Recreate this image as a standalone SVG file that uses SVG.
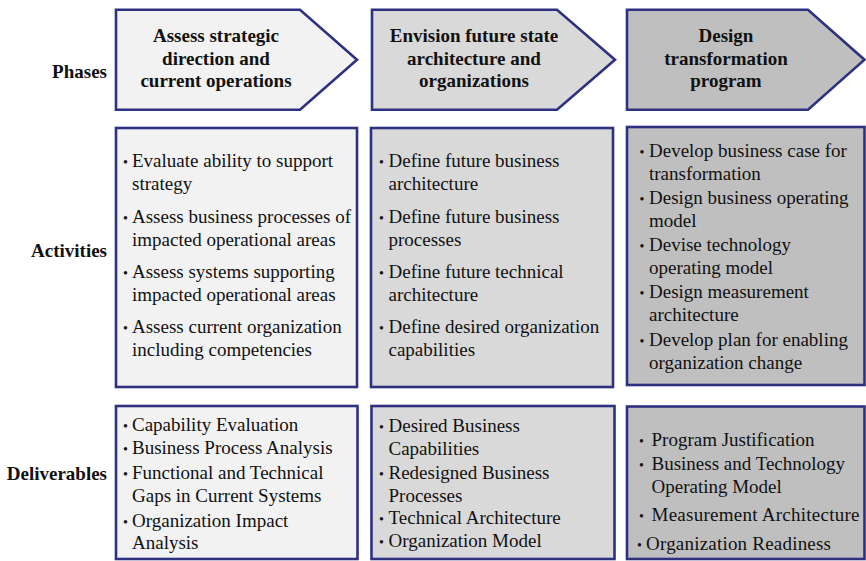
<svg xmlns="http://www.w3.org/2000/svg" width="866" height="561" viewBox="0 0 866 561">
<style>
.sh{stroke:#2e3080;stroke-width:2.6;stroke-linejoin:miter}
.c1{fill:#f2f2f2}.c2{fill:#d9d9d9}.c3{fill:#bfbfbf}
text{font-family:"Liberation Serif","Times New Roman",serif;fill:#111}
.b{font-size:19px;font-weight:bold}
.t{font-size:19px}
.bu{font-size:14px}
.lab{text-anchor:end}
.ph{text-anchor:middle}
</style>
<rect width="866" height="561" fill="#ffffff"/>
<g id="labels">
<text class="b lab" x="107" y="78">Phases</text>
<text class="b lab" x="107" y="257">Activities</text>
<text class="b lab" x="107" y="480">Deliverables</text>
</g>
<g id="phase1">
<path class="sh c1" d="M116,9.7 L300,9.7 L357,59.7 L300,109.7 L116,109.7 Z"/>
<text class="b ph" x="216" y="42">Assess strategic</text>
<text class="b ph" x="216" y="64.5">direction and</text>
<text class="b ph" x="216" y="87">current operations</text>
</g>
<g id="phase2">
<path class="sh c2" d="M372,9.7 L557,9.7 L615,59.7 L557,109.7 L372,109.7 Z"/>
<text class="b ph" x="474" y="42">Envision future state</text>
<text class="b ph" x="474" y="64.5">architecture and</text>
<text class="b ph" x="474" y="87">organizations</text>
</g>
<g id="phase3">
<path class="sh c3" d="M627,9.7 L808,9.7 L864.5,59.7 L808,109.7 L627,109.7 Z"/>
<text class="b ph" x="726" y="42">Design</text>
<text class="b ph" x="726" y="64.5">transformation</text>
<text class="b ph" x="726" y="87">program</text>
</g>
<g id="activities1">
<rect class="sh c1" x="116" y="128" width="241" height="259"/>
<text class="bu" x="123" y="167">•</text>
<text class="t" x="132" y="167">Evaluate ability to support</text>
<text class="t" x="132" y="190">strategy</text>
<text class="bu" x="123" y="223">•</text>
<text class="t" x="132" y="223">Assess business processes of</text>
<text class="t" x="132" y="246">impacted operational areas</text>
<text class="bu" x="123" y="278">•</text>
<text class="t" x="132" y="278">Assess systems supporting</text>
<text class="t" x="132" y="301">impacted operational areas</text>
<text class="bu" x="123" y="333">•</text>
<text class="t" x="132" y="333">Assess current organization</text>
<text class="t" x="132" y="356">including competencies</text>
</g>
<g id="activities2">
<rect class="sh c2" x="371" y="128" width="242" height="259"/>
<text class="bu" x="379" y="167">•</text>
<text class="t" x="388.5" y="167">Define future business</text>
<text class="t" x="388.5" y="190">architecture</text>
<text class="bu" x="379" y="223">•</text>
<text class="t" x="388.5" y="223">Define future business</text>
<text class="t" x="388.5" y="246">processes</text>
<text class="bu" x="379" y="278">•</text>
<text class="t" x="388.5" y="278">Define future technical</text>
<text class="t" x="388.5" y="301">architecture</text>
<text class="bu" x="379" y="333">•</text>
<text class="t" x="388.5" y="333">Define desired organization</text>
<text class="t" x="388.5" y="356">capabilities</text>
</g>
<g id="activities3">
<rect class="sh c3" x="627" y="127" width="237.5" height="258"/>
<text class="bu" x="639.5" y="157">•</text>
<text class="t" x="649" y="157">Develop business case for</text>
<text class="t" x="649" y="180">transformation</text>
<text class="bu" x="639.5" y="204">•</text>
<text class="t" x="649" y="204">Design business operating</text>
<text class="t" x="649" y="227">model</text>
<text class="bu" x="639.5" y="251">•</text>
<text class="t" x="649" y="251">Devise technology</text>
<text class="t" x="649" y="274">operating model</text>
<text class="bu" x="639.5" y="298">•</text>
<text class="t" x="649" y="298">Design measurement</text>
<text class="t" x="649" y="321">architecture</text>
<text class="bu" x="639.5" y="346">•</text>
<text class="t" x="649" y="346">Develop plan for enabling</text>
<text class="t" x="649" y="369">organization change</text>
</g>
<g id="deliverables1">
<rect class="sh c1" x="116" y="406" width="241.5" height="153"/>
<text class="bu" x="123" y="431">•</text>
<text class="t" x="132" y="431">Capability Evaluation</text>
<text class="bu" x="123" y="454">•</text>
<text class="t" x="132" y="454">Business Process Analysis</text>
<text class="bu" x="123" y="479">•</text>
<text class="t" x="132" y="479">Functional and Technical</text>
<text class="t" x="132" y="502">Gaps in Current Systems</text>
<text class="bu" x="123" y="527">•</text>
<text class="t" x="132" y="527">Organization Impact</text>
<text class="t" x="132" y="549">Analysis</text>
</g>
<g id="deliverables2">
<rect class="sh c2" x="371.5" y="406" width="243" height="153"/>
<text class="bu" x="379" y="432">•</text>
<text class="t" x="388.5" y="432">Desired Business</text>
<text class="t" x="388.5" y="455">Capabilities</text>
<text class="bu" x="379" y="479">•</text>
<text class="t" x="388.5" y="479">Redesigned Business</text>
<text class="t" x="388.5" y="502">Processes</text>
<text class="bu" x="379" y="524">•</text>
<text class="t" x="388.5" y="524">Technical Architecture</text>
<text class="bu" x="379" y="547">•</text>
<text class="t" x="388.5" y="547">Organization Model</text>
</g>
<g id="deliverables3">
<rect class="sh c3" x="627" y="406.5" width="237.5" height="152.5"/>
<text class="bu" x="639" y="446">•</text>
<text class="t" x="651.5" y="446">Program Justification</text>
<text class="bu" x="639" y="470">•</text>
<text class="t" x="651.5" y="470">Business and Technology</text>
<text class="t" x="651.5" y="493">Operating Model</text>
<text class="bu" x="639" y="521">•</text>
<text class="t" x="651.5" y="521" textLength="208" lengthAdjust="spacing">Measurement Architecture</text>
<text class="bu" x="637" y="550">•</text>
<text class="t" x="646" y="550" textLength="185" lengthAdjust="spacing">Organization Readiness</text>
</g>
<g id="connectors"></g>
</svg>
